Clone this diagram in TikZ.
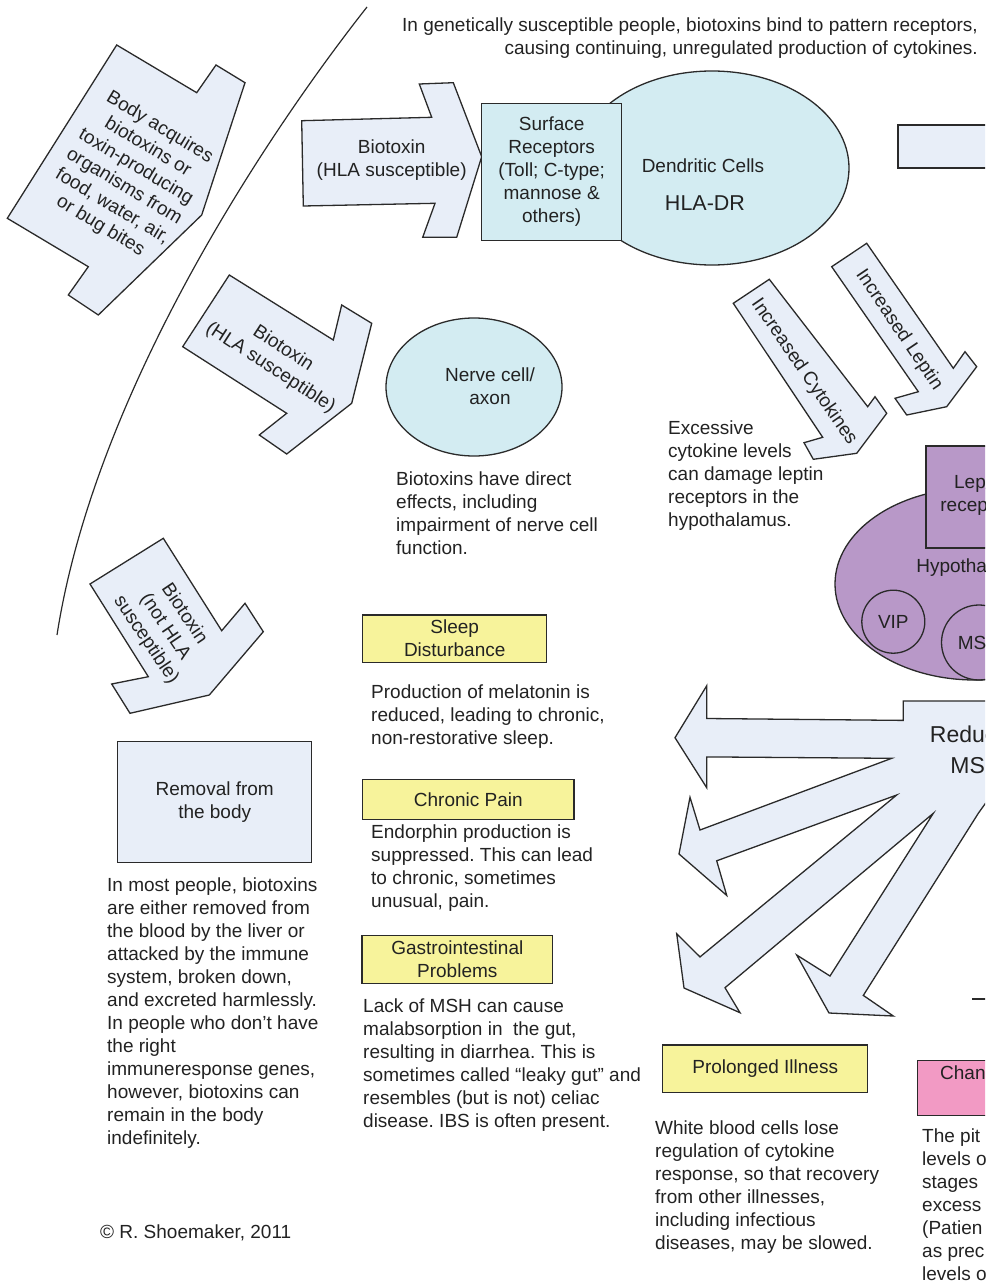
\documentclass[tikz,border=0pt]{standalone}
\usepackage{fontspec}
\setmainfont{Liberation Sans}
\usetikzlibrary{shapes.geometric}
\definecolor{arrowfill}{HTML}{E8EEF8}
\definecolor{cellfill}{HTML}{D3ECF2}
\definecolor{yellowfill}{HTML}{F7F39B}
\definecolor{purplefill}{HTML}{B898C8}
\definecolor{pinkfill}{HTML}{F29AC4}
\definecolor{linec}{HTML}{2A2A2A}
\definecolor{textc}{HTML}{222222}
\frenchspacing
\begin{document}
\begin{tikzpicture}[x=1pt,y=-1pt,
  outl/.style={draw=linec,line width=1.3pt,line join=miter},
  barrow/.style={outl,fill=arrowfill},
  txt/.style={text=textc,font=\fontsize{19}{23}\selectfont,inner sep=0pt},
  para/.style={txt,align=left,anchor=north west},
  lbl/.style={txt,align=center},
  ybox/.style={outl,fill=yellowfill,txt,align=center}]
\useasboundingbox (0,0) rectangle (985,1284);
\clip (0,0) rectangle (985,1284);

% separating curve
\draw[linec,line width=1.2pt] (367,7) .. controls (270,130) and (95,390) .. (57,635);

% intro text
\node[para,anchor=north east,align=right] (intro) at (978,18) {In genetically susceptible people, biotoxins bind to pattern receptors,\\causing continuing, unregulated production of cytokines.};

% body acquires arrow
\draw[barrow] (116.7,45) -- (196.7,92.7) -- (216,65) -- (245,82.7) -- (201.7,215) -- (98.3,315) -- (68.3,295) -- (88.3,266.7) -- (7.3,218.3) -- cycle;
\node[lbl,rotate=-31] (acq) at (130,177) {Body acquires\\biotoxins or\\toxin-producing\\organisms from\\food, water, air,\\or bug bites};

% horizontal biotoxin arrow
\draw[barrow] (301.7,120.7) -- (431.7,117.3) -- (419.3,84) -- (453.3,82.7) -- (481.7,156.7) -- (456.7,237.3) -- (422.7,237.3) -- (435,203.3) -- (303.3,206) -- cycle;
\node[lbl] (btx1) at (391.7,160) {Biotoxin\\(HLA susceptible)};

% dendritic cells
\node[outl,fill=cellfill,ellipse,minimum width=274pt,minimum height=194pt] (dc) at (712,168) {};
\node[lbl] (dctext) at (703,166) {Dendritic Cells};
\node[lbl,font=\fontsize{21.5}{25}\selectfont] (hla) at (705,203) {HLA-DR};
\node[outl,fill=cellfill,minimum width=140pt,minimum height=137.4pt,lbl] (sr) at (551.7,172) {Surface\\Receptors\\(Toll; C-type;\\mannose \&\\others)};

% top right box
\draw[outl,fill=arrowfill] (898,125) rectangle (1000,168);

% middle biotoxin arrow
\draw[barrow] (229.3,275) -- (333.3,340) -- (341.7,305) -- (371.7,323.3) -- (351.7,403.3) -- (286.7,454) -- (259.3,435) -- (286.7,413.3) -- (182.7,346.7) -- cycle;
\node[lbl,rotate=-33] (btx2) at (276.7,358.3) {Biotoxin\\(HLA susceptible)};

% nerve cell
\node[outl,fill=cellfill,ellipse,minimum width=176pt,minimum height=138pt] (nerve) at (474,387) {};
\node[lbl] (nervetext) at (490,386) {Nerve cell/\\axon};
\node[para] (nervenote) at (396,472) {Biotoxins have direct\\effects, including\\impairment of nerve cell\\function.};

% not HLA arrow
\draw[barrow] (90,584) -- (163.3,538.3) -- (221.7,630.7) -- (245,603.3) -- (263.3,631.7) -- (209.3,695) -- (130,713.3) -- (111.7,684) -- (148.3,676.7) -- cycle;
\node[lbl,rotate=-56] (btx3) at (165,627) {Biotoxin\\(not HLA\\susceptible)};

% removal
\node[outl,fill=arrowfill,minimum width=194pt,minimum height=121pt,lbl] (removal) at (214.7,802.2) {Removal from\\the body};
\node[para] (removalnote) at (107,878) {In most people, biotoxins\\are either removed from\\the blood by the liver or\\attacked by the immune\\system, broken down,\\and excreted harmlessly.\\In people who don’t have\\the right\\immuneresponse genes,\\however, biotoxins can\\remain in the body\\indefinitely.};
\node[para] (copy) at (100,1225) {© R. Shoemaker, 2011};

% symptom boxes
\node[ybox,minimum width=184pt,minimum height=47.3pt] (sleep) at (454.7,638.7) {Sleep\\Disturbance};
\node[para] (sleepnote) at (371,685) {Production of melatonin is\\reduced, leading to chronic,\\non-restorative sleep.};
\node[ybox,minimum width=211.3pt,minimum height=40pt] (pain) at (468.3,799.3) {Chronic Pain};
\node[para] (painnote) at (371,825) {Endorphin production is\\suppressed. This can lead\\to chronic, sometimes\\unusual, pain.};
\node[ybox,minimum width=190.5pt,minimum height=48.4pt] (gi) at (457.3,959.6) {Gastrointestinal\\Problems};
\node[para] (ginote) at (363,999) {Lack of MSH can cause\\malabsorption in \ the gut,\\resulting in diarrhea. This is\\sometimes called “leaky gut” and\\resembles (but is not) celiac\\disease. IBS is often present.};

% cytokines and leptin arrows
\draw[barrow] (733.3,303.3) -- (769.3,279.3) -- (867.7,406.7) -- (875,396.7) -- (886.7,413.3) -- (856.7,453.3) -- (813.3,459.3) -- (804,442.7) -- (822.7,437.3) -- cycle;
\node[lbl,rotate=-55.5] (cyto) at (804,372) {Increased Cytokines};
\draw[barrow] (831.7,266.7) -- (866.7,243.3) -- (953.3,368.3) -- (965,351.7) -- (976.7,366.7) -- (946.7,406.7) -- (906.7,415) -- (895,398.3) -- (918.3,391.7) -- cycle;
\node[lbl,rotate=-56] (lep) at (899,330) {Increased Leptin};
\node[para] (excess) at (668,421) {Excessive\\cytokine levels\\can damage leptin\\receptors in the\\hypothalamus.};

% hypothalamus
\node[outl,fill=purplefill,ellipse,minimum width=280pt,minimum height=192pt] (hyp) at (975,584) {};
\node[outl,fill=purplefill,minimum width=100pt,minimum height=102pt] (leprec) at (976,497) {};
\node[lbl] (leptxt) at (980,495.5) {Leptin\\receptors};
\node[lbl] (hyptxt) at (977,568) {Hypothalamus};
\node[outl,circle,minimum size=63pt,lbl] (vip) at (893.3,621.7) {VIP};
\node[outl,circle,minimum size=75pt,lbl] (msh) at (979,642.5) {MSH};

% reduced MSH multi arrow
\draw[barrow] (995,701) -- (903.3,701) -- (903.3,720.4) -- (706.7,718.5) -- (706.7,685.8) -- (675,737.7) -- (706.7,787.7) -- (706.7,756.9) -- (891.7,758.3)
 -- (700,830) -- (690,797.3) -- (679,854) -- (726.7,895.4) -- (716.7,860.8) -- (896.7,795)
 -- (700,956.9) -- (676.7,933.8) -- (684,988) -- (740,1012.7) -- (725,987.7) -- (933.3,813.3)
 -- (830,976) -- (796.7,955) -- (829,1013) -- (893.3,1016) -- (863.3,995.4) -- (978.3,813.3)
 -- (995,790) -- cycle;
\node[lbl,font=\fontsize{23}{31}\selectfont] (mshtxt) at (976,750) {Reduced\\MSH};
\draw[outl] (972,999) -- (990,999);

% prolonged illness
\node[ybox,minimum width=205pt,minimum height=47.7pt] (prol) at (765.2,1068.8) {Prolonged Illness};
\node[para] (prolnote) at (655,1121) {White blood cells lose\\regulation of cytokine\\response, so that recovery\\from other illnesses,\\including infectious\\diseases, may be slowed.};

% pink box
\node[outl,fill=pinkfill,minimum width=120pt,minimum height=55pt,anchor=north west] (pink) at (917,1060) {};
\node[txt,anchor=west] (pinktxt) at (940,1075) {Changes};
\node[para] (pinknote) at (922,1129) {The pit\\levels o\\stages\\excess\\(Patien\\as prec\\levels o};
\end{tikzpicture}
\end{document}
